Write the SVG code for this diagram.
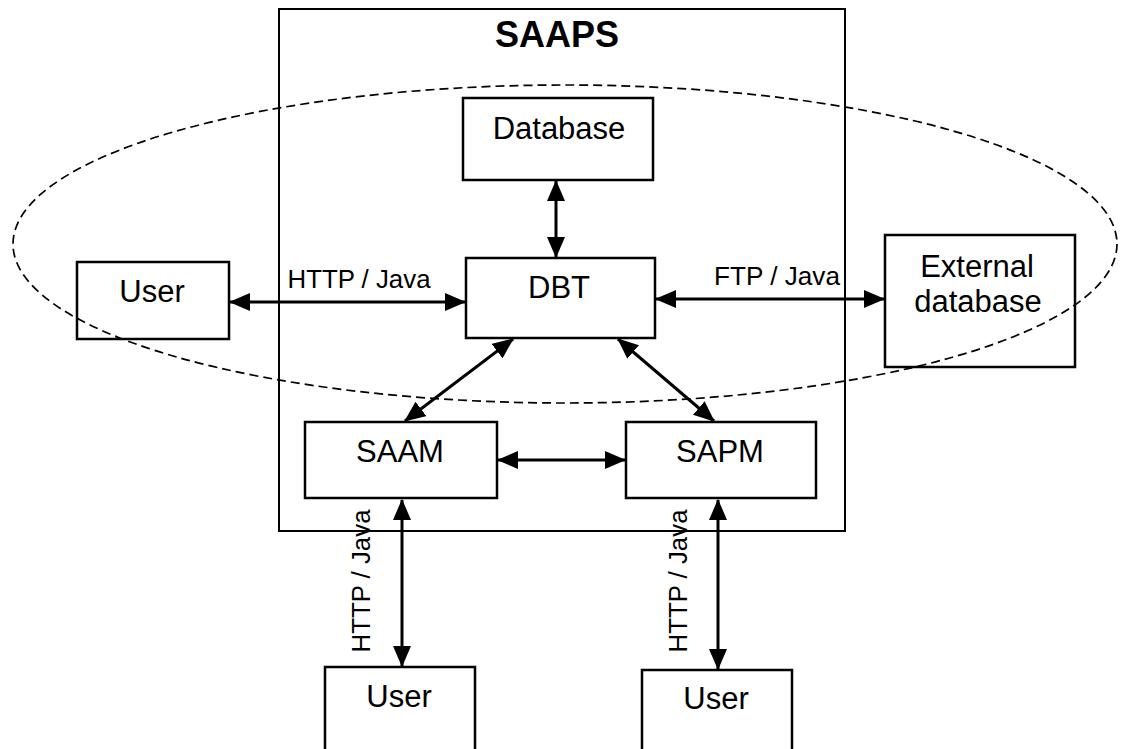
<svg xmlns="http://www.w3.org/2000/svg" width="1122" height="749" viewBox="0 0 1122 749">
<style>
.box{fill:#fff;stroke:#000;stroke-width:2.5}
.outer{fill:none;stroke:#000;stroke-width:2}
.t{font-family:"Liberation Sans",Arial,sans-serif;font-size:31px;fill:#000;text-anchor:middle}
.lbl{font-family:"Liberation Sans",Arial,sans-serif;font-size:25px;fill:#000;text-anchor:middle}
.title{font-family:"Liberation Sans",Arial,sans-serif;font-size:36px;font-weight:bold;fill:#000;text-anchor:middle}
.c{fill:none;stroke:#000;stroke-width:3;marker-start:url(#ah);marker-end:url(#ah)}
.ell{fill:none;stroke:#000;stroke-width:1.7;stroke-dasharray:9 5}
</style>
<defs>
<marker id="ah" markerUnits="userSpaceOnUse" markerWidth="21" markerHeight="18" refX="20" refY="9" orient="auto-start-reverse" viewBox="0 0 21 18">
<path d="M0,0 L21,9 L0,18 Z" fill="#000"/>
</marker>
</defs>
<rect width="1122" height="749" fill="#fff"/>
<g id="saaps">
<rect class="outer" x="279" y="9" width="566" height="522"/>
<text class="title" x="557" y="47">SAAPS</text>
</g>
<g id="connectors">
<line class="c" x1="556" y1="181" x2="556" y2="257"/>
<line class="c" x1="230" y1="302" x2="465" y2="302"/>
<text class="lbl" x="359" y="288" textLength="143" lengthAdjust="spacingAndGlyphs">HTTP / Java</text>
<line class="c" x1="656" y1="299" x2="884" y2="299"/>
<text class="lbl" x="777" y="285" textLength="126" lengthAdjust="spacingAndGlyphs">FTP / Java</text>
<line class="c" x1="513" y1="339" x2="405" y2="421"/>
<line class="c" x1="618" y1="339" x2="714" y2="421"/>
<line class="c" x1="498" y1="460" x2="625" y2="460"/>
<line class="c" x1="402" y1="500" x2="402" y2="666"/>
<text class="lbl" transform="translate(370,581) rotate(-90)" x="0" y="0" textLength="143" lengthAdjust="spacingAndGlyphs">HTTP / Java</text>
<line class="c" x1="718" y1="500" x2="718" y2="669"/>
<text class="lbl" transform="translate(687,581) rotate(-90)" x="0" y="0" textLength="143" lengthAdjust="spacingAndGlyphs">HTTP / Java</text>
</g>
<g id="database">
<rect class="box" x="463" y="98" width="190" height="82"/>
<text class="t" x="559" y="139">Database</text>
</g>
<g id="dbt">
<rect class="box" x="466" y="258" width="189" height="80"/>
<text class="t" x="559" y="298">DBT</text>
</g>
<g id="user-left">
<rect class="box" x="77" y="262" width="152" height="77"/>
<text class="t" x="152" y="302">User</text>
</g>
<g id="external-db">
<rect class="box" x="885" y="235" width="190" height="132"/>
<text class="t" x="977" y="277">External</text>
<text class="t" x="978" y="312">database</text>
</g>
<g id="saam">
<rect class="box" x="305" y="422" width="192" height="76"/>
<text class="t" x="400" y="462">SAAM</text>
</g>
<g id="sapm">
<rect class="box" x="626" y="422" width="190" height="76"/>
<text class="t" x="720" y="462">SAPM</text>
</g>
<g id="user-bottom-left">
<rect class="box" x="325" y="667" width="150" height="90"/>
<text class="t" x="399" y="707">User</text>
</g>
<g id="user-bottom-right">
<rect class="box" x="642" y="670" width="150" height="90"/>
<text class="t" x="716" y="709">User</text>
</g>
<ellipse id="boundary" class="ell" cx="565" cy="244" rx="552" ry="159"/>
</svg>
